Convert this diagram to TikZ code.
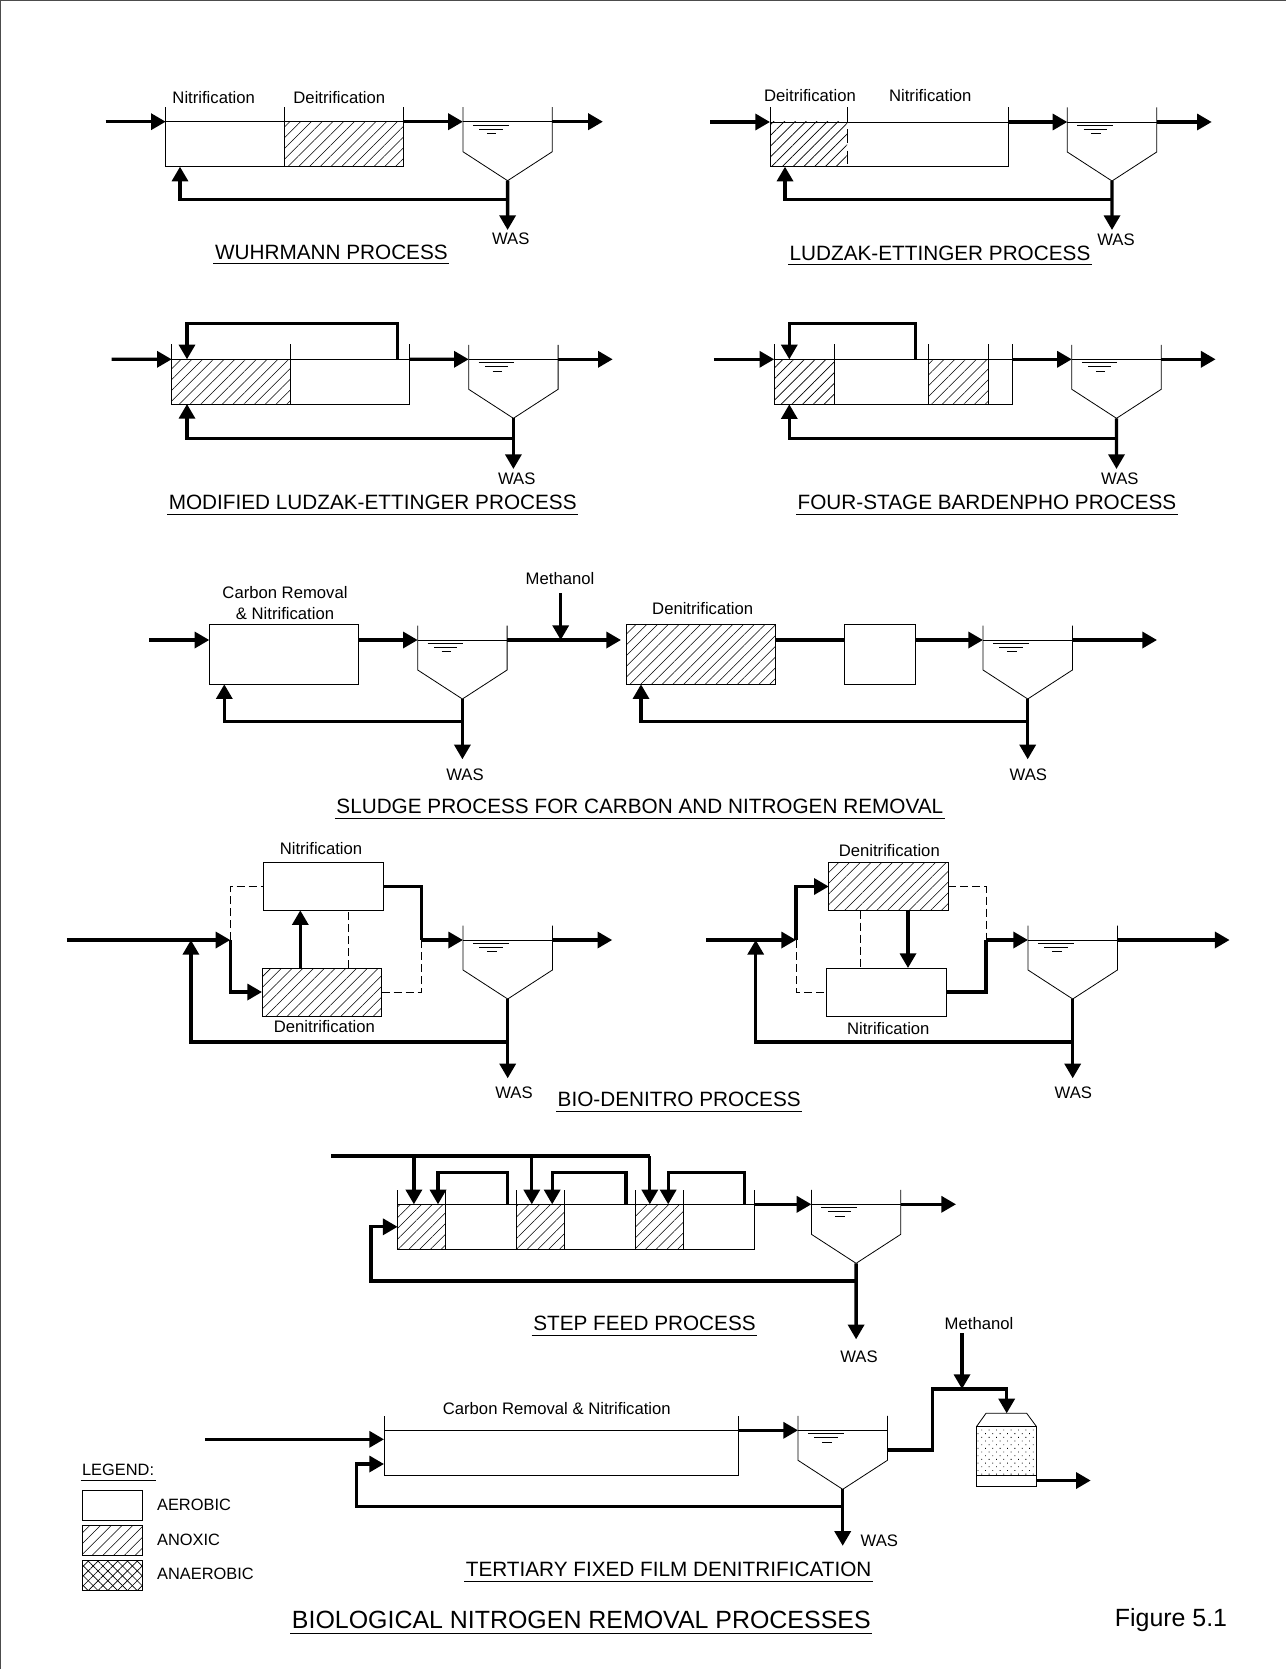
\documentclass[tikz,border=0pt]{standalone}
\usepackage{fontspec}
\setmainfont{Liberation Sans}
\usetikzlibrary{arrows.meta, fit, patterns.meta}

\newcommand{\clarifier}[3]{%
    \path (#2,#3) coordinate (#1-in) ++(89.4,0) coordinate (#1-out);
    \path (#2,#3) ++(44.7,59) coordinate (#1-apex);
    \draw[thinline] (#1-in) ++(0,-14.5) -- ++(0,44.5) -- (#1-apex) -- ++(44.7,-29) -- ++(0,-44.5);
    \draw[thinline] (#1-in) -- (#1-out);
    \draw[thinline] (#1-in) ++(10,3.3) -- ++(35.6,0);
    \draw[thinline] (#1-in) ++(16.4,7.5) -- ++(23.2,0);
    \draw[thinline] (#1-in) ++(24,11.8) -- ++(9.5,0);
}

\begin{document}
\begin{tikzpicture}[>={Triangle[length=11pt,width=12pt]}, x=0.75pt, y=-0.75pt,
    flow/.style={->, line width=2.5pt},
    pipe/.style={line width=2.5pt},
    thinline/.style={line width=0.6pt},
    dashpipe/.style={line width=0.6pt, dash pattern=on 6pt off 3pt},
    zone/.style={draw, line width=0.6pt, inner sep=0pt, outer sep=0pt},
    hatched/.style={pattern={Lines[angle=45,distance=5.7pt,line width=0.45pt]}},
    crossed/.style={pattern={Lines[angle=45,distance=5.2pt,line width=0.5pt]},
        postaction={pattern={Lines[angle=-45,distance=5.2pt,line width=0.5pt]}}},
    dotted media/.style={pattern={Dots[angle=45,distance=3.9pt,radius=0.45pt]}},
    lbl/.style={font=\fontsize{12.5}{14}\selectfont, inner sep=1pt},
    keylbl/.style={font=\fontsize{12.3}{14}\selectfont, inner sep=1pt, anchor=west},
    processname/.style={font=\fontsize{15.55}{18}\selectfont, inner xsep=1pt, inner ysep=3pt},
    mainname/.style={font=\fontsize{18.7}{21}\selectfont, inner xsep=1pt, inner ysep=3pt}]
    \useasboundingbox (0,0) rectangle (1286,1669);
    \coordinate (cornerbl) at (0.6,1669);
    \coordinate (cornertr) at (1286,0.6);
    \draw[thinline, black!70] (cornerbl) |- (cornertr);

    % Wuhrmann
    \node[zone, fit={(165.7,121.7) (284.6,166.7)}] (wa) {};
    \node[zone, hatched, fit={(284.6,121.7) (403.2,166.7)}] (wb) {};
    \draw[thinline] (wa.north west) -- ++(0,-14.5) (wb.north west) -- ++(0,-14.5) (wb.north east) -- ++(0,-14.5);
    \clarifier{c1}{462.9}{121.7}
    \coordinate (i1) at (105.7,121.7);
    \coordinate (o1) at (602.9,121.7);
    \coordinate (j1) at (507.6,199.3);
    \coordinate (e1) at (180,199.3);
    \coordinate (w1) at (507.6,230);
    \draw[flow] (i1) -- (wa.north west);
    \draw[flow] (wb.north east) -- (c1-in);
    \draw[flow] (c1-out) -- (o1);
    \draw[flow] (c1-apex) -- (w1);
    \draw[flow] (j1) -- (e1) -- (e1 |- wa.south);
    \node[lbl] (n1) at (213.7,98) {Nitrification};
    \node[lbl] (d1) at (339.3,98) {Deitrification};
    \node[lbl] (was1) at (510.7,239) {WAS};
    \node[processname] (t1) at (331.4,252) {WUHRMANN PROCESS};
    \draw[thinline] (t1.south west) -- (t1.south east);

    % Ludzak-Ettinger
    \node[zone, fit={(770,122) (1008,166.7)}] (la) {};
    \node[zone, draw=none, hatched, fit={(770,122) (847,166.7)}] (lb) {};
    \draw[thinline, dash pattern=on 10pt off 6pt, dash phase=10.5pt] (lb.north east) -- (lb.south east);
    \draw[thinline] (la.north west) -- ++(0,-14.7) (lb.north east) -- ++(0,-14.7) (la.north east) -- ++(0,-14.7);
    \clarifier{c2}{1067.3}{122}
    \coordinate (i2) at (710,122);
    \coordinate (o2) at (1211.7,122);
    \coordinate (j2) at (1112,199.3);
    \coordinate (e2) at (785,199.3);
    \coordinate (w2) at (1112,230);
    \draw[flow] (i2) -- (la.north west);
    \draw[flow] (la.north east) -- (c2-in);
    \draw[flow] (c2-out) -- (o2);
    \draw[flow] (c2-apex) -- (w2);
    \draw[flow] (j2) -- (e2) -- (e2 |- la.south);
    \node[lbl] (d2) at (810,95.7) {Deitrification};
    \node[lbl] (n2) at (930.3,95.7) {Nitrification};
    \node[lbl] (was2) at (1116,239.3) {WAS};
    \node[processname] (t2) at (940,253) {LUDZAK-ETTINGER PROCESS};
    \draw[thinline] (t2.south west) -- (t2.south east);

    % Modified Ludzak-Ettinger
    \node[zone, hatched, fit={(171.7,359.3) (290.3,404)}] (ma) {};
    \node[zone, fit={(290.3,359.3) (409.3,404)}] (mb) {};
    \draw[thinline] (ma.north west) -- ++(0,-15) (ma.north east) -- ++(0,-15) (mb.north east) -- ++(0,-15);
    \clarifier{c3}{468.7}{359.3}
    \coordinate (i3) at (111.7,359.3);
    \coordinate (o3) at (612.7,359.3);
    \coordinate (j3) at (513.4,438.7);
    \coordinate (e3) at (187,438.7);
    \coordinate (w3) at (513.4,469);
    \coordinate (a3) at (397.3,359.3);
    \coordinate (b3) at (187,323.3);
    \draw[flow] (i3) -- (ma.north west);
    \draw[flow] (mb.north east) -- (c3-in);
    \draw[flow] (c3-out) -- (o3);
    \draw[flow] (c3-apex) -- (w3);
    \draw[flow] (j3) -- (e3) -- (e3 |- ma.south);
    \draw[flow] (a3) |- (b3) -- (b3 |- ma.north);
    \node[lbl] (was3) at (516.7,479) {WAS};
    \node[processname] (t3) at (372.7,502.3) {MODIFIED LUDZAK-ETTINGER PROCESS};
    \draw[thinline] (t3.south west) -- (t3.south east);

    % Four-stage Bardenpho
    \node[zone, hatched, fit={(774.2,359.3) (833.9,404.3)}] (ba) {};
    \node[zone, fit={(833.9,359.3) (928.6,404.3)}] (bb) {};
    \node[zone, hatched, fit={(928.6,359.3) (988.6,404.3)}] (bc) {};
    \node[zone, fit={(988.6,359.3) (1012,404.3)}] (bd) {};
    \draw[thinline] (ba.north west) -- ++(0,-15) (ba.north east) -- ++(0,-15) (bc.north west) -- ++(0,-15)
        (bc.north east) -- ++(0,-15) (bd.north east) -- ++(0,-15);
    \clarifier{c4}{1071.8}{359.3}
    \coordinate (i4) at (713.9,359.3);
    \coordinate (o4) at (1215.6,359.3);
    \coordinate (j4) at (1116.5,438.3);
    \coordinate (e4) at (789.3,438.3);
    \coordinate (w4) at (1116.5,469);
    \coordinate (a4) at (915.6,359.3);
    \coordinate (b4) at (789.3,323.3);
    \draw[flow] (i4) -- (ba.north west);
    \draw[flow] (bd.north east) -- (c4-in);
    \draw[flow] (c4-out) -- (o4);
    \draw[flow] (c4-apex) -- (w4);
    \draw[flow] (j4) -- (e4) -- (e4 |- ba.south);
    \draw[flow] (a4) |- (b4) -- (b4 |- ba.north);
    \node[lbl] (was4) at (1119.8,479) {WAS};
    \node[processname] (t4) at (987,502.3) {FOUR-STAGE BARDENPHO PROCESS};
    \draw[thinline] (t4.south west) -- (t4.south east);

    % Sludge process
    \node[zone, fit={(209.3,624.7) (358.3,684.3)}] (sa) {};
    \node[zone, hatched, fit={(626,624.7) (775,684.3)}] (sb) {};
    \node[zone, fit={(844.7,624.7) (915,684.3)}] (sc) {};
    \clarifier{c5}{417.7}{640}
    \clarifier{c6}{983}{640}
    \coordinate (i5) at (149.3,640);
    \coordinate (g5) at (621,640);
    \coordinate (m5) at (560.7,593.3);
    \coordinate (o5) at (1157,640);
    \coordinate (j5) at (462.4,721.7);
    \coordinate (e5) at (224.3,721.7);
    \coordinate (w5) at (462.4,759.3);
    \coordinate (j6) at (1027.7,721.7);
    \coordinate (e6) at (641,721.7);
    \coordinate (w6) at (1027.7,759.3);
    \draw[flow] (i5) -- (i5 -| sa.west);
    \draw[flow] (sa.east |- c5-in) -- (c5-in);
    \draw[flow] (c5-out) -- (g5);
    \draw[flow] (m5) -- (m5 |- c5-in);
    \draw[flow] (c5-apex) -- (w5);
    \draw[flow] (j5) -- (e5) -- (e5 |- sa.south);
    \draw[pipe] (sb.east |- c6-in) -- (sc.west |- c6-in);
    \draw[flow] (sc.east |- c6-in) -- (c6-in);
    \draw[flow] (c6-out) -- (o5);
    \draw[flow] (c6-apex) -- (w6);
    \draw[flow] (j6) -- (e6) -- (e6 |- sb.south);
    \node[lbl, align=center] (cr5) at (285,603.3) {Carbon Removal\\[1.5pt]\& Nitrification};
    \node[lbl] (ml5) at (560,578.3) {Methanol};
    \node[lbl] (d5) at (702.7,608.3) {Denitrification};
    \node[lbl] (was5) at (465,775) {WAS};
    \node[lbl] (was6) at (1028.3,775) {WAS};
    \node[processname] (t5) at (639.8,806.7) {SLUDGE PROCESS FOR CARBON AND NITROGEN REMOVAL};
    \draw[thinline] (t5.south west) -- (t5.south east);

    % Bio-Denitro left
    \node[zone, fit={(263.6,862.3) (383,910.3)}] (ln) {};
    \node[zone, hatched, fit={(262,968) (381.5,1016)}] (ld) {};
    \clarifier{c7}{463}{940}
    \coordinate (i7) at (66.9,940);
    \coordinate (s7) at (230.3,940);
    \coordinate (k7) at (421.7,940);
    \coordinate (o7) at (612.2,940);
    \coordinate (j7) at (507.7,1042);
    \coordinate (e7) at (190.9,1042);
    \coordinate (w7) at (507.7,1078.3);
    \coordinate (u7) at (300.3,968);
    \coordinate (v7) at (348.6,968);
    \draw[flow] (i7) -- (s7);
    \draw[flow] (j7) -- (e7) -- (e7 |- i7);
    \draw[flow] (s7) |- (ld.west);
    \draw[flow] (u7) -- (u7 |- ln.south);
    \draw[pipe] (ln.east) -| (k7);
    \draw[flow] (k7) -- (c7-in);
    \draw[flow] (c7-out) -- (o7);
    \draw[flow] (c7-apex) -- (w7);
    \draw[dashpipe] (s7) |- (ln.west);
    \draw[dashpipe] (v7) -- (v7 |- ln.south);
    \draw[dashpipe] (ld.east) -| (k7);
    \node[lbl] (n7) at (321,848.3) {Nitrification};
    \node[lbl] (d7) at (324.4,1026.7) {Denitrification};
    \node[lbl] (was7) at (514,1092.3) {WAS};

    % Bio-Denitro right
    \node[zone, hatched, fit={(828.7,862.3) (948,910.7)}] (rd) {};
    \node[zone, fit={(826.7,968) (946.7,1016)}] (rn) {};
    \clarifier{c8}{1028}{940}
    \coordinate (i8) at (706,940);
    \coordinate (s8) at (796,940);
    \coordinate (k8) at (986,940);
    \coordinate (o8) at (1229.6,940);
    \coordinate (j8) at (1072.7,1042);
    \coordinate (e8) at (755.7,1042);
    \coordinate (w8) at (1072.7,1078.3);
    \coordinate (u8) at (908,910.7);
    \coordinate (v8) at (860,910.7);
    \draw[flow] (i8) -- (s8);
    \draw[flow] (j8) -- (e8) -- (e8 |- i8);
    \draw[flow] (s8) |- (rd.west);
    \draw[flow] (u8) -- (u8 |- rn.north);
    \draw[pipe] (rn.east) -| (k8);
    \draw[flow] (k8) -- (c8-in);
    \draw[flow] (c8-out) -- (o8);
    \draw[flow] (c8-apex) -- (w8);
    \draw[dashpipe] (s8) |- (rn.west);
    \draw[dashpipe] (v8) -- (v8 |- rn.north);
    \draw[dashpipe] (rd.east) -| (k8);
    \node[lbl] (d8) at (889.3,851) {Denitrification};
    \node[lbl] (n8) at (888.3,1028.7) {Nitrification};
    \node[lbl] (was8) at (1073.3,1092.3) {WAS};
    \node[processname] (t6) at (679.2,1099.7) {BIO-DENITRO PROCESS};
    \draw[thinline] (t6.south west) -- (t6.south east);

    % Step feed
    \node[zone, hatched, fit={(397.6,1204.3) (445.3,1249.3)}] (fa) {};
    \node[zone, fit={(445.3,1204.3) (516.3,1249.3)}] (fb) {};
    \node[zone, hatched, fit={(516.3,1204.3) (564.1,1249.3)}] (fc) {};
    \node[zone, fit={(564.1,1204.3) (635.5,1249.3)}] (fd) {};
    \node[zone, hatched, fit={(635.5,1204.3) (683.3,1249.3)}] (fe) {};
    \node[zone, fit={(683.3,1204.3) (754.7,1249.3)}] (ff) {};
    \draw[thinline] (fa.north west) -- ++(0,-14.3) (fa.north east) -- ++(0,-14.3) (fc.north west) -- ++(0,-14.3)
        (fc.north east) -- ++(0,-14.3) (fe.north west) -- ++(0,-14.3) (fe.north east) -- ++(0,-14.3)
        (ff.north east) -- ++(0,-14.3);
    \clarifier{c9}{811.4}{1204.3}
    \coordinate (i9) at (331,1156);
    \coordinate (s1) at (413.9,1156);
    \coordinate (s2) at (531.8,1156);
    \coordinate (s3) at (649.8,1156);
    \coordinate (a1) at (507.3,1204.3);
    \coordinate (b1) at (438,1172.3);
    \coordinate (a2) at (626,1204.3);
    \coordinate (b2) at (552.2,1172.3);
    \coordinate (a3b) at (744.5,1204.3);
    \coordinate (b3b) at (668.2,1172.3);
    \coordinate (o9) at (956,1204.3);
    \coordinate (j9) at (856.1,1281);
    \coordinate (e9) at (371,1281);
    \coordinate (w9) at (856.1,1339.3);
    \draw[pipe] (i9) -- (s3);
    \draw[flow] (s1) -- (s1 |- fa.north);
    \draw[flow] (s2) -- (s2 |- fc.north);
    \draw[flow] (s3) -- (s3 |- fe.north);
    \draw[flow] (a1) |- (b1) -- (b1 |- fa.north);
    \draw[flow] (a2) |- (b2) -- (b2 |- fc.north);
    \draw[flow] (a3b) |- (b3b) -- (b3b |- fe.north);
    \draw[flow] (ff.north east) -- (c9-in);
    \draw[flow] (c9-out) -- (o9);
    \draw[flow] (c9-apex) -- (w9);
    \draw[flow] (j9) -- (e9) |- (fa.west);
    \node[lbl] (was9) at (859,1356.3) {WAS};
    \node[processname] (t7) at (644.5,1323.3) {STEP FEED PROCESS};
    \draw[thinline] (t7.south west) -- (t7.south east);

    % Tertiary film
    \node[zone, fit={(384,1430.3) (738.8,1475.3)}] (ta) {};
    \draw[thinline] (ta.north west) -- ++(0,-14.5) (ta.north east) -- ++(0,-14.5);
    \clarifier{c10}{798}{1430.3}
    \node[zone, dotted media, fit={(976.7,1426.3) (1036.3,1475)}] (tm) {};
    \node[zone, fit={(976.7,1475) (1036.3,1486)}] (tb) {};
    \draw[thinline] (tm.north west) -- ++(9.3,-13) -- ++(40.7,0) -- (tm.north east);
    \coordinate (i10) at (205,1439.3);
    \coordinate (q10) at (384,1464);
    \coordinate (j10) at (842.7,1506.7);
    \coordinate (e10) at (356.7,1506.7);
    \coordinate (w10) at (842.7,1545.8);
    \coordinate (c10-side) at (887.4,1450);
    \coordinate (k10) at (932.3,1389);
    \coordinate (l10) at (1006.7,1389);
    \coordinate (m10) at (962,1333.3);
    \coordinate (f10) at (1006.7,1413.3);
    \coordinate (o10) at (1090.7,1480.5);
    \draw[flow] (i10) -- (i10 -| ta.west);
    \draw[flow] (j10) -- (e10) |- (q10);
    \draw[flow] (ta.north east) -- (c10-in);
    \draw[flow] (c10-apex) -- (w10);
    \draw[flow] (c10-side) -| (k10) -- (l10) -- (f10);
    \draw[flow] (m10) -- (m10 |- k10);
    \draw[flow] (tb.east) -- (o10);
    \node[lbl] (cr10) at (556.8,1408.5) {Carbon Removal \& Nitrification};
    \node[lbl] (ml10) at (979,1323.3) {Methanol};
    \node[lbl] (was10) at (879.4,1540.5) {WAS};
    \node[processname] (t8) at (668.6,1569.3) {TERTIARY FIXED FILM DENITRIFICATION};
    \draw[thinline] (t8.south west) -- (t8.south east);

    % Legend
    \node[keylbl, inner ysep=3pt] (lg) at (80.5,1470) {LEGEND:};
    \draw[thinline] (lg.south west) -- (lg.south east);
    \node[zone, fit={(82.3,1490) (142.3,1520)}] (k1) {};
    \node[zone, hatched, fit={(82.3,1525.3) (142.3,1555.7)}] (k2) {};
    \node[zone, crossed, fit={(82.3,1560.7) (142.3,1590.7)}] (k3) {};
    \node[keylbl] (k1t) at (155.5,1505) {AEROBIC};
    \node[keylbl] (k2t) at (155.5,1540) {ANOXIC};
    \node[keylbl] (k3t) at (155.5,1574) {ANAEROBIC};

    % Titles
    \node[mainname] (main) at (581.3,1620) {BIOLOGICAL NITROGEN REMOVAL PROCESSES};
    \draw[thinline] (main.south west) -- (main.south east);
    \node[mainname] (fig) at (1171,1620) {Figure 5.1};
\end{tikzpicture}
\end{document}
